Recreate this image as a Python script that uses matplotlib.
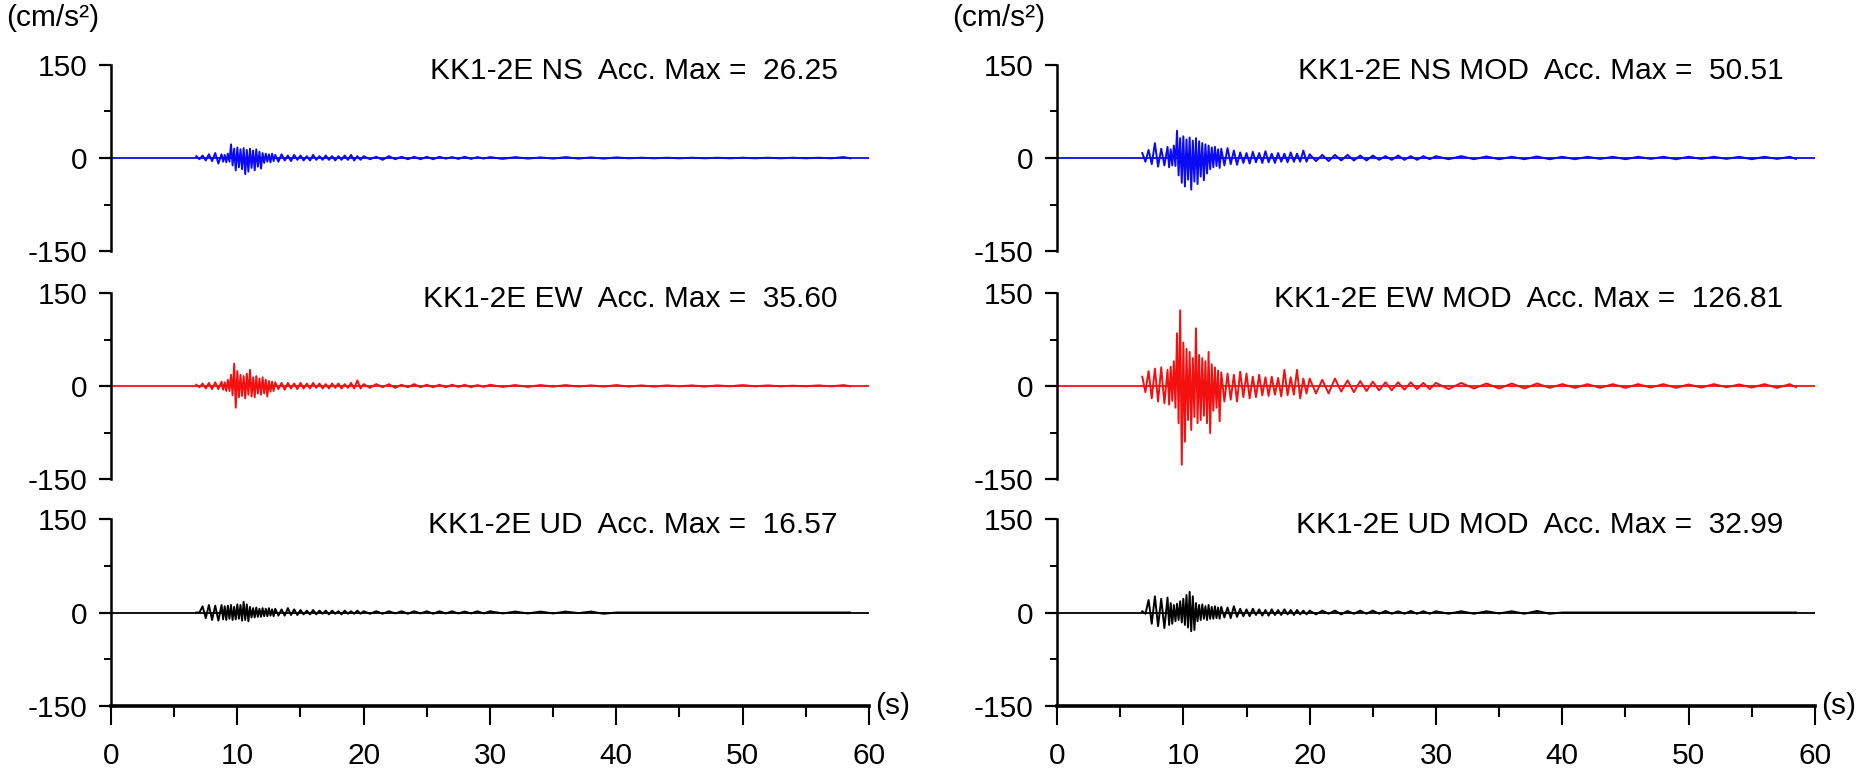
import numpy as np
import matplotlib
matplotlib.use("Agg")
import matplotlib.pyplot as plt
from matplotlib.ticker import MultipleLocator

plt.rcParams['font.family'] = ['Liberation Sans Narrow', 'Liberation Sans', 'DejaVu Sans']

# common sample times (s) at which the envelope peaks were read
T = [6.75, 7.25, 7.75, 8.25, 8.75,
     9.0, 9.25, 9.5, 9.75, 10.0, 10.25, 10.5, 10.75, 11.0, 11.25, 11.5, 11.75, 12.0, 12.25, 12.5, 12.75,
     13.0, 13.5, 14.0, 14.5, 15.0, 15.5, 16.0, 16.5, 17.0, 17.5, 18.0, 18.5, 19.0, 19.5,
     20, 21, 22, 23, 24, 25, 26, 27, 28, 29,
     30, 32, 34, 36, 38, 40, 42, 44, 46, 48, 50, 52, 54, 56, 58]

NS_HI = [3, 4, 6, 8, 6, 5, 7, 22, 15, 17, 14, 16, 13, 15, 12, 14, 10, 8, 7, 6, 7,
         5, 6, 4, 5, 4, 3, 5, 3, 4, 3, 3, 4, 5, 3, 3, 2, 3, 2, 2, 2, 2, 1.5, 2, 1.5,
         1.5, 1.5, 1, 1.5, 1, 1, 0.5, 0.5, 0.5, 0.5, 0.5, 0.5, 0.5, 0.5, 1.5]
NS_LO = [-2, -4, -5, -9, -6, -7, -6, -12, -20, -15, -18, -26, -22, -16, -20, -14, -17, -8, -6, -7, -5,
         -6, -4, -5, -3, -4, -4, -3, -3, -3, -4, -3, -3, -4, -3, -2, -3, -2, -2, -2, -2, -1, -1.5, -1.5, -1,
         -1.5, -1, -1, -1, -1, -0.5, -0.5, -0.5, -0.5, -0.5, -0.5, -0.5, -0.5, -0.5, -0.5]

EW_HI = [2, 4, 5, 6, 7, 6, 10, 18, 36, 24, 18, 16, 20, 26, 14, 16, 12, 14, 10, 8, 7,
         6, 5, 5, 4, 5, 4, 5, 4, 3, 4, 4, 3, 5, 9, 3, 3, 3, 2, 3, 2, 2, 2, 2, 1.5,
         2, 1.5, 1.5, 1.5, 1, 1.5, 1, 1, 1, 1, 1.5, 1, 0.5, 1, 1.5]
EW_LO = [-2, -4, -5, -5, -6, -8, -8, -15, -35, -18, -16, -20, -14, -17, -18, -12, -14, -12, -17, -9, -8,
         -5, -6, -4, -5, -4, -4, -3, -4, -4, -3, -4, -3, -4, -4, -3, -2, -3, -2, -2, -2, -2, -1.5, -2, -1.5,
         -1.5, -1.5, -1, -1, -1, -1, -1, -0.5, -1, -0.5, -0.5, -0.5, -0.5, -0.5, -0.5]

UD_HI = [0, 10, 12, 11, 12, 10, 11, 12, 9, 13, 12, 17, 13, 9, 7, 8, 6, 7, 6, 7, 5,
         6, 5, 7, 5, 4, 3, 4, 3, 3, 3, 2, 3, 2, 3, 2, 2, 2, 2, 2, 2, 2, 2, 1.5, 2,
         2, 1.5, 1.5, 1.5, 1.5, 0, 0, 0, 0, 0, 0, 0, 0, 0, 0]
UD_LO = [0, -9, -12, -13, -11, -12, -10, -12, -11, -10, -13, -12, -14, -8, -8, -7, -7, -6, -6, -5, -6,
         -5, -5, -4, -4, -3, -3, -3, -2, -3, -2, -3, -2, -2, -2, -2, -2, -1.5, -2, -1.5, -2, -1.5, -1.5, -1.5, -1.5,
         -1.5, -1.5, -1.5, -1, -2, 0, 0, 0, 0, 0, 0, 0, 0, 0, 0]

NSM_HI = [8, 13, 24, 15, 18, 14, 20, 44, 32, 35, 30, 33, 28, 32, 27, 24, 22, 20, 17, 18, 14,
          15, 16, 12, 9, 8, 10, 8, 11, 7, 8, 7, 9, 7, 12, 6, 5, 5, 5, 4, 4, 3, 4, 3, 3,
          3, 3, 2.5, 2, 2.5, 2, 2, 2, 2, 2, 2, 2, 2, 2, 2]
NSM_LO = [-6, -10, -14, -12, -15, -12, -13, -28, -40, -46, -35, -51, -38, -42, -30, -36, -25, -18, -15, -13, -16,
          -12, -10, -11, -8, -9, -7, -8, -7, -8, -6, -7, -6, -6, -6, -5, -5, -4, -4, -4, -3, -3, -3, -3, -2,
          -2, -2, -2, -2, -2, -2, -1.5, -2, -1.5, -2, -1.5, -1.5, -2, -1.5, -1.5]

EWM_HI = [15, 24, 28, 30, 26, 31, 40, 85, 122, 70, 60, 55, 45, 93, 50, 45, 40, 55, 35, 30, 25,
          22, 20, 18, 23, 20, 15, 18, 14, 15, 13, 26, 14, 26, 12, 12, 10, 12, 9, 8, 7, 6, 6, 6, 5,
          5, 5, 4, 4, 4, 3, 3, 3, 3, 3, 2.5, 3, 2.5, 3, 3]
EWM_LO = [-10, -20, -25, -28, -30, -24, -35, -60, -127, -90, -55, -71, -50, -60, -55, -48, -60, -76, -40, -35, -57,
          -25, -22, -25, -18, -20, -18, -15, -16, -14, -17, -15, -14, -20, -12, -12, -12, -9, -10, -8, -7, -7, -6, -5, -5,
          -5, -4, -4, -4, -3, -3, -3, -3, -2.5, -3, -2.5, -2, -2.5, -3, -2]

UDM_HI = [2, 20, 26, 22, 24, 15, 12, 14, 18, 22, 28, 33, 26, 15, 12, 13, 10, 12, 9, 10, 8,
          9, 8, 10, 6, 5, 6, 5, 4, 5, 4, 5, 4, 4, 3, 3, 3, 3, 2.5, 3, 3, 2.5, 2, 2.5, 2,
          2, 2, 2, 2, 2.5, 0, 0, 0, 0, 0, 0, 0, 0, 0, 0]
UDM_LO = [-2, -18, -22, -25, -20, -18, -14, -12, -16, -20, -24, -30, -28, -14, -12, -10, -12, -10, -10, -9, -10,
          -8, -9, -7, -6, -6, -4, -5, -5, -4, -4, -3, -4, -3, -3, -3, -2, -3, -2, -2, -2, -2, -2, -2, -2,
          -2, -2, -1.5, -2, -2, 0, 0, 0, 0, 0, 0, 0, 0, 0, 0]

LABELS = ["KK1-2E NS  Acc. Max =  26.25", "KK1-2E EW  Acc. Max =  35.60", "KK1-2E UD  Acc. Max =  16.57",
          "KK1-2E NS MOD  Acc. Max =  50.51", "KK1-2E EW MOD  Acc. Max =  126.81", "KK1-2E UD MOD  Acc. Max =  32.99"]
SERIES = [(NS_HI, NS_LO), (EW_HI, EW_LO), (UD_HI, UD_LO),
          (NSM_HI, NSM_LO), (EWM_HI, EWM_LO), (UDM_HI, UDM_LO)]
COLORS = ["#0a0af5", "#f51010", "#000000"]
X_TICKS = [0, 10, 20, 30, 40, 50, 60]
Y_TICKS = [-150, 0, 150]


def zigzag(t, hi, lo):
    t = np.asarray(t, float)
    nxt = np.append(t[1:], t[-1] + 1.0)
    mid = (t + nxt) / 2.0
    x = np.column_stack([t, mid]).ravel()
    y = np.column_stack([hi, lo]).ravel()
    return x, y


fig = plt.figure(figsize=(18.58, 7.71), dpi=100)
W, H = 1858.0, 771.0
col_x = [111 / W, 1057 / W]
ax_w = 758 / W
rows = [(65, 251), (293, 479), (519, 706)]
FS = 21.5

for c in range(2):
    for r in range(3):
        top, bot = rows[r]
        ax = fig.add_axes([col_x[c], 1 - bot / H, ax_w, (bot - top) / H])
        hi, lo = SERIES[c * 3 + r]
        color = COLORS[r]
        ax.plot([0, 60], [0, 0], color=color, lw=1.3, zorder=2)
        x, y = zigzag(T, hi, lo)
        ax.plot(x, y, color=color, lw=1.4, zorder=3)
        ax.set_xlim(0, 60)
        ax.set_ylim(-150, 150)
        for s in ("top", "right"):
            ax.spines[s].set_visible(False)
        ax.spines["left"].set_linewidth(1.8)
        ax.set_yticks(Y_TICKS)
        ax.set_yticklabels([str(v) for v in Y_TICKS], fontsize=FS)
        ax.yaxis.set_minor_locator(MultipleLocator(75))
        ax.tick_params(axis="y", which="major", length=9, width=1.6, pad=8, direction="out")
        ax.tick_params(axis="y", which="minor", length=5, width=1.4, direction="out")
        if r < 2:
            ax.spines["bottom"].set_visible(False)
            ax.set_xticks([])
        else:
            ax.spines["bottom"].set_linewidth(2.6)
            ax.set_xticks(X_TICKS)
            ax.set_xticklabels([str(v) for v in X_TICKS], fontsize=FS)
            ax.xaxis.set_minor_locator(MultipleLocator(5))
            ax.tick_params(axis="x", which="major", length=14, width=1.5, pad=12, direction="out")
            ax.tick_params(axis="x", which="minor", length=8, width=1.5, direction="out")
            ax.text(60.5, -150, "(s)", fontsize=FS, ha="left", va="center")
        ax.text(57.5, 140, LABELS[c * 3 + r], fontsize=FS, ha="right", va="center")
        ax.patch.set_visible(False)

fig.text(6 / W, 1 - 18 / H, "(cm/s²)", fontsize=FS, ha="left", va="center")
fig.text(952 / W, 1 - 18 / H, "(cm/s²)", fontsize=FS, ha="left", va="center")

fig.savefig("out.png", dpi=100)
